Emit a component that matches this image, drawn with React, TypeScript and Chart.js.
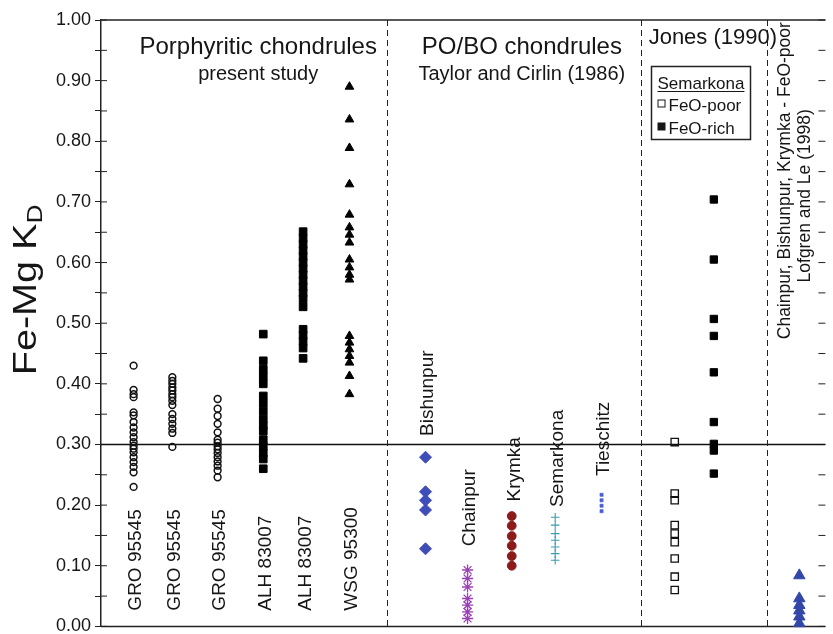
import React, { useEffect, useRef } from 'react';
import { Chart, registerables } from 'chart.js';

Chart.register(...registerables);

const FONT = '"Liberation Sans", Arial, Helvetica, sans-serif';

// ---- axis ----
const Y_MIN = 0;
const Y_MAX = 1;
const Y_MINOR_STEP = 0.05;
const REF_KD = 0.3;
const Y_TITLE = 'Fe-Mg K';
const Y_TITLE_SUB = 'D';

// ---- data (Fe-Mg KD values per column) ----
const GRO_95545_A = [0.43, 0.39, 0.383, 0.378, 0.353, 0.348, 0.337, 0.328, 0.32, 0.312, 0.304, 0.298, 0.293, 0.287, 0.279, 0.271, 0.263, 0.254, 0.23];
const GRO_95545_B = [0.411, 0.405, 0.4, 0.394, 0.389, 0.383, 0.378, 0.372, 0.365, 0.35, 0.342, 0.334, 0.326, 0.319, 0.296];
const GRO_95545_C = [0.375, 0.359, 0.347, 0.334, 0.32, 0.308, 0.303, 0.297, 0.292, 0.286, 0.279, 0.272, 0.265, 0.257, 0.246];
const ALH_83007_A = [0.482, 0.438, 0.424, 0.412, 0.4, 0.38, 0.368, 0.355, 0.342, 0.331, 0.322, 0.308, 0.297, 0.286, 0.276, 0.26];
const ALH_83007_B = [0.651, 0.64, 0.63, 0.62, 0.61, 0.6, 0.59, 0.58, 0.57, 0.56, 0.55, 0.54, 0.527, 0.49, 0.48, 0.47, 0.459, 0.442];
const WSG_95300 = [0.89, 0.836, 0.789, 0.729, 0.679, 0.658, 0.646, 0.633, 0.605, 0.592, 0.58, 0.572, 0.479, 0.468, 0.457, 0.446, 0.435, 0.413, 0.383];
const BISHUNPUR = [0.279, 0.222, 0.208, 0.192, 0.128];
const CHAINPUR = [0.093, 0.079, 0.065, 0.046, 0.035, 0.024, 0.013];
const KRYMKA = [0.182, 0.166, 0.149, 0.133, 0.116, 0.1];
const SEMARKONA_TC = [0.18, 0.167, 0.153, 0.142, 0.131, 0.12, 0.109];
const TIESCHITZ = [0.217, 0.208, 0.199, 0.19];
const JONES_FEO_POOR = [0.304, 0.219, 0.208, 0.167, 0.153, 0.139, 0.112, 0.082, 0.06];
const JONES_FEO_RICH = [0.704, 0.605, 0.507, 0.479, 0.419, 0.337, 0.301, 0.29, 0.252];
const LOFGREN_LE = [0.084, 0.046, 0.035, 0.026, 0.016, 0.005];

const SERIES = [GRO_95545_A, GRO_95545_B, GRO_95545_C, ALH_83007_A, ALH_83007_B, WSG_95300, BISHUNPUR, CHAINPUR, KRYMKA, SEMARKONA_TC, TIESCHITZ, JONES_FEO_POOR, JONES_FEO_RICH, LOFGREN_LE];
const COLUMN_LABELS = ['GRO 95545', 'GRO 95545', 'GRO 95545', 'ALH 83007', 'ALH 83007', 'WSG 95300', 'Bishunpur', 'Chainpur', 'Krymka', 'Semarkona', 'Tieschitz', '', '', ''];
// column positions along the (hidden) x axis, 0..100
const COLUMN_X = [4.5, 9.85, 16.1, 22.4, 27.9, 34.3, 44.8, 50.6, 56.7, 62.7, 69.1, 79.2, 84.6, 96.4];
const GROUP_DIVIDERS_X = [39.5, 74.5, 91.9];

const GROUP_TITLES = [
  { main: 'Porphyritic chondrules', sub: 'present study' },
  { main: 'PO/BO chondrules', sub: 'Taylor and Cirlin (1986)' },
];
const JONES_TITLE = 'Jones (1990)';
const LEGEND_TITLE = 'Semarkona';
const LEGEND_ITEMS = ['FeO-poor', 'FeO-rich'];
const LOFGREN_LINES = ['Chainpur, Bishunpur, Krymka - FeO-poor', 'Lofgren and Le (1998)'];

// ---- styles / layout ----
const STYLES = [
  { s: 'circle', r: 3.4, fill: 'rgba(0,0,0,0)', stroke: '#111', w: 1.5 },
  { s: 'circle', r: 3.4, fill: 'rgba(0,0,0,0)', stroke: '#111', w: 1.5 },
  { s: 'circle', r: 3.4, fill: 'rgba(0,0,0,0)', stroke: '#111', w: 1.5 },
  { s: 'rect', r: 5.4, fill: '#000', stroke: '#000', w: 1 },
  { s: 'rect', r: 5.4, fill: '#000', stroke: '#000', w: 1 },
  { s: 'triangle', r: 5, fill: '#000', stroke: '#000', w: 1 },
  { s: 'rectRot', r: 6, fill: '#3F4DB8', stroke: '#3F4DB8', w: 1 },
  { s: 'star', r: 5.5, fill: '#9B3FB5', stroke: '#9B3FB5', w: 1.3 },
  { s: 'circle', r: 4.4, fill: '#8B1A1A', stroke: '#8B1A1A', w: 1 },
  { s: 'cross', r: 4.3, fill: '#3A9DB0', stroke: '#3A9DB0', w: 1.1 },
  { s: 'rect', r: 2.3, fill: '#4A5FD0', stroke: '#4A5FD0', w: 0.5 },
  { s: 'rect', r: 5.2, fill: 'rgba(0,0,0,0)', stroke: '#111', w: 1.3 },
  { s: 'rect', r: 5.2, fill: '#000', stroke: '#000', w: 1 },
  { s: 'triangle', r: 6.6, fill: '#3347A8', stroke: '#3347A8', w: 1 },
];
// y value where each rotated column label starts
const LABEL_START_Y = [0.026, 0.026, 0.026, 0.026, 0.026, 0.026, 0.314, 0.132, 0.206, 0.197, 0.248, 0, 0, 0];

const TEXT = '#161616';

function vText(ctx: CanvasRenderingContext2D, text: string, cx: number, y: number, size: number, align: CanvasTextAlign) {
  ctx.save();
  ctx.font = `${size}px ${FONT}`;
  ctx.fillStyle = TEXT;
  ctx.translate(cx + (size * 0.716) / 2, y);
  ctx.rotate(-Math.PI / 2);
  ctx.textAlign = align;
  ctx.textBaseline = 'alphabetic';
  ctx.fillText(text, 0, 0);
  ctx.restore();
}

function seg(ctx: CanvasRenderingContext2D, x1: number, y1: number, x2: number, y2: number) {
  ctx.beginPath();
  ctx.moveTo(x1, y1);
  ctx.lineTo(x2, y2);
  ctx.stroke();
}

const decor = {
  id: 'decor',
  beforeDatasetsDraw(chart: any) {
    const { ctx, chartArea: a } = chart;
    const x = chart.scales.x;
    const y = chart.scales.y;
    ctx.save();
    ctx.strokeStyle = '#222';
    ctx.lineWidth = 1.5;
    seg(ctx, a.left, a.top, a.right, a.top);
    seg(ctx, a.left, a.bottom, a.right, a.bottom);
    ctx.lineWidth = 1;
    for (let k = 0; k <= Math.round((Y_MAX - Y_MIN) / Y_MINOR_STEP); k++) {
      const py = y.getPixelForValue(Y_MIN + k * Y_MINOR_STEP);
      seg(ctx, a.left, py, a.left + 6, py);
      seg(ctx, a.right - 7, py, a.right, py);
    }
    ctx.strokeStyle = '#111';
    ctx.lineWidth = 1.5;
    const ry = y.getPixelForValue(REF_KD);
    seg(ctx, a.left, ry, a.right, ry);
    ctx.setLineDash([6, 4]);
    ctx.lineWidth = 1;
    ctx.strokeStyle = '#222';
    GROUP_DIVIDERS_X.forEach((d) => {
      const px = Math.round(x.getPixelForValue(d)) + 0.5;
      seg(ctx, px, a.top, px, a.bottom);
    });
    ctx.restore();
  },
  afterDatasetsDraw(chart: any) {
    const { ctx } = chart;
    const x = chart.scales.x;
    const y = chart.scales.y;
    ctx.save();
    ctx.fillStyle = TEXT;
    ctx.textBaseline = 'alphabetic';

    // group titles
    const titleCx = [21.7, 58.1];
    GROUP_TITLES.forEach((g, i) => {
      const cx = x.getPixelForValue(titleCx[i]);
      ctx.textAlign = 'center';
      ctx.font = `24px ${FONT}`;
      ctx.fillText(g.main, cx, y.getPixelForValue(0.944));
      ctx.font = `20px ${FONT}`;
      ctx.fillText(g.sub, cx, y.getPixelForValue(0.901));
    });
    ctx.textAlign = 'left';
    ctx.font = `22px ${FONT}`;
    ctx.fillText(JONES_TITLE, x.getPixelForValue(75.6), y.getPixelForValue(0.961));

    // legend box
    const bx0 = Math.round(x.getPixelForValue(75.9)) + 0.5;
    const bx1 = Math.round(x.getPixelForValue(89.6)) + 0.5;
    const by0 = Math.round(y.getPixelForValue(0.924)) + 0.5;
    const by1 = Math.round(y.getPixelForValue(0.804)) + 0.5;
    ctx.fillStyle = '#fff';
    ctx.fillRect(bx0, by0, bx1 - bx0, by1 - by0);
    ctx.strokeStyle = '#222';
    ctx.lineWidth = 1.5;
    ctx.strokeRect(bx0, by0, bx1 - bx0, by1 - by0);
    ctx.fillStyle = TEXT;
    ctx.font = `17px ${FONT}`;
    ctx.textAlign = 'center';
    const lcx = (bx0 + bx1) / 2;
    ctx.fillText(LEGEND_TITLE, lcx, by0 + 22);
    const tw = ctx.measureText(LEGEND_TITLE).width;
    ctx.lineWidth = 1.2;
    ctx.strokeStyle = TEXT;
    seg(ctx, lcx - tw / 2, by0 + 25, lcx + tw / 2, by0 + 25);
    ctx.textAlign = 'left';
    LEGEND_ITEMS.forEach((t, i) => {
      const base = by0 + 44 + i * 23;
      ctx.fillText(t, bx0 + 17, base);
      if (i === 0) {
        ctx.lineWidth = 1;
        ctx.strokeRect(bx0 + 6.5, base - 10.5, 7, 7);
      } else {
        ctx.fillRect(bx0 + 6, base - 11, 8, 8);
      }
    });

    // rotated column labels
    COLUMN_LABELS.forEach((t, i) => {
      if (!t) return;
      vText(ctx, t, x.getPixelForValue(COLUMN_X[i]) + 1, y.getPixelForValue(LABEL_START_Y[i]), 19, 'left');
    });

    // Lofgren and Le annotation
    vText(ctx, LOFGREN_LINES[0], x.getPixelForValue(94.2), y.getPixelForValue(0.735), 17.5, 'center');
    vText(ctx, LOFGREN_LINES[1], x.getPixelForValue(97.0), y.getPixelForValue(0.71), 17.5, 'center');

    // y axis title with subscript
    const F = 33;
    const FS = 22;
    const STRETCH = 1.2;
    ctx.font = `${F}px ${FONT}`;
    const w1 = ctx.measureText(Y_TITLE).width;
    ctx.font = `${FS}px ${FONT}`;
    const w2 = ctx.measureText(Y_TITLE_SUB).width;
    const cy = y.getPixelForValue(0.555);
    ctx.save();
    ctx.translate(36, cy + ((w1 + w2) * STRETCH) / 2);
    ctx.rotate(-Math.PI / 2);
    ctx.scale(STRETCH, 1);
    ctx.textAlign = 'left';
    ctx.fillStyle = TEXT;
    ctx.font = `${F}px ${FONT}`;
    ctx.fillText(Y_TITLE, 0, 0);
    ctx.font = `${FS}px ${FONT}`;
    ctx.fillText(Y_TITLE_SUB, w1, 6);
    ctx.restore();

    ctx.restore();
  },
};

export default function App() {
  const ref = useRef<HTMLCanvasElement>(null);
  useEffect(() => {
    const canvas = ref.current;
    if (!canvas) return;
    const datasets = SERIES.map((vals, i) => ({
      label: COLUMN_LABELS[i] || `series ${i}`,
      data: vals.map((v) => ({ x: COLUMN_X[i], y: v })),
      pointStyle: STYLES[i].s as any,
      pointRadius: STYLES[i].r,
      backgroundColor: STYLES[i].fill,
      borderColor: STYLES[i].stroke,
      borderWidth: STYLES[i].w,
      showLine: false,
      clip: false as any,
    }));
    const chart = new Chart(canvas, {
      type: 'scatter',
      data: { datasets },
      options: {
        animation: false,
        responsive: true,
        maintainAspectRatio: false,
        events: [],
        layout: { padding: { top: 20, bottom: 6, left: 0, right: 0 } },
        plugins: { legend: { display: false }, tooltip: { enabled: false } },
        scales: {
          x: { type: 'linear', min: 0, max: 100, display: false },
          y: {
            type: 'linear',
            min: Y_MIN,
            max: Y_MAX,
            afterFit: (s: any) => {
              s.width = 101;
              s.paddingTop = 0;
              s.paddingBottom = 0;
            },
            ticks: {
              stepSize: Y_MINOR_STEP,
              autoSkip: false,
              padding: 4,
              color: TEXT,
              font: { family: FONT, size: 18 },
              callback: (v: any) => {
                const k = Math.round(Number(v) * 100);
                return k % 10 === 0 ? (k / 100).toFixed(2) : '';
              },
            },
            grid: { drawOnChartArea: false, drawTicks: true, tickLength: 6, color: '#222', lineWidth: 1 },
            border: { display: true, color: '#222', width: 1.5 },
          },
        },
      },
      plugins: [decor],
    });
    return () => chart.destroy();
  }, []);
  return (
    <div style={{ position: 'fixed', left: 0, top: 0, width: 833, height: 634, background: '#fff' }}>
      <canvas ref={ref} style={{ display: 'block' }} />
    </div>
  );
}
